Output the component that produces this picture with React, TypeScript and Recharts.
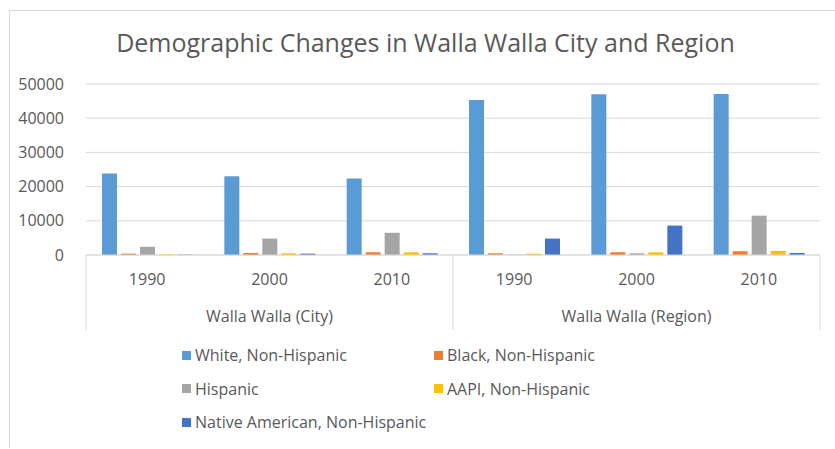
import React from 'react';
import { BarChart, Bar, XAxis, YAxis, CartesianGrid } from 'recharts';

const years = ['1990', '2000', '2010', '1990', '2000', '2010'];
const places = [
  'Walla Walla (City)', 'Walla Walla (City)', 'Walla Walla (City)',
  'Walla Walla (Region)', 'Walla Walla (Region)', 'Walla Walla (Region)',
];
const white = [23800, 23000, 22400, 45300, 47000, 47100];
const black = [400, 600, 800, 500, 800, 1100];
const hispanic = [2400, 4800, 6500, 100, 500, 11500];
const aapi = [200, 500, 800, 400, 800, 1200];
const native = [100, 400, 500, 4800, 8600, 600];
const yTicks = [0, 10000, 20000, 30000, 40000, 50000];

const series = [
  { key: 'white', name: 'White, Non-Hispanic', color: '#5B9BD5', values: white },
  { key: 'black', name: 'Black, Non-Hispanic', color: '#ED7D31', values: black },
  { key: 'hispanic', name: 'Hispanic', color: '#A5A5A5', values: hispanic },
  { key: 'aapi', name: 'AAPI, Non-Hispanic', color: '#FFC000', values: aapi },
  { key: 'native', name: 'Native American, Non-Hispanic', color: '#4472C4', values: native },
];

const data = years.map((year, i) => {
  const row: Record<string, string | number> = { id: `${places[i]}-${year}`, year, place: places[i] };
  series.forEach((s) => { row[s.key] = s.values[i]; });
  return row;
});

const W = 835;
const H = 449;
const PLOT_LEFT = 86;
const PLOT_RIGHT = 820;
const AXIS_Y = 255;
const BAND = (PLOT_RIGHT - PLOT_LEFT) / years.length;
const FONT = '"Open Sans", "Noto Sans", sans-serif';
const TEXT = '#595959';
const LINE = '#d9d9d9';

const YearTick = (props: any) => {
  const { x, payload } = props;
  const i: number = payload.index;
  const lines: React.ReactNode[] = [];
  if (i % 3 === 0) lines.push(<line key="l" x1={x - BAND / 2} x2={x - BAND / 2} y1={AXIS_Y} y2={330} stroke={LINE} />);
  if (i === years.length - 1) lines.push(<line key="r" x1={x + BAND / 2} x2={x + BAND / 2} y1={AXIS_Y} y2={330} stroke={LINE} />);
  return (
    <g>
      {lines}
      <text x={x} y={AXIS_Y + 30} textAnchor="middle" fill={TEXT} fontSize={16} fontFamily={FONT}>
        {years[i]}
      </text>
      {i % 3 === 1 && (
        <text x={x} y={AXIS_Y + 67} textAnchor="middle" fill={TEXT} fontSize={16} fontFamily={FONT}>
          {places[i]}
        </text>
      )}
    </g>
  );
};

export default function App() {
  return (
    <div style={{ position: 'absolute', left: 0, top: 0, width: W, height: H, background: '#fff', fontFamily: FONT }}>
      <div style={{ position: 'absolute', left: 9, top: 10, width: W - 9, height: 437, borderLeft: `1px solid ${LINE}`, borderTop: `1px solid ${LINE}` }} />
      <div style={{ position: 'absolute', left: 8, top: 25, width: W, textAlign: 'center', fontSize: 25, color: TEXT }}>
        Demographic Changes in Walla Walla City and Region
      </div>
      <div style={{ position: 'absolute', left: 0, top: 0 }}>
        <BarChart
          width={W}
          height={H}
          data={data}
          margin={{ top: 84, right: W - PLOT_RIGHT, bottom: H - AXIS_Y - 80, left: 0 }}
          barSize={15}
          barGap={4}
        >
          <CartesianGrid vertical={false} stroke={LINE} />
          <XAxis
            dataKey="id"
            height={80}
            axisLine={{ stroke: LINE }}
            tickLine={false}
            interval={0}
            tick={<YearTick />}
          />
          <YAxis
            width={PLOT_LEFT}
            domain={[0, 50000]}
            ticks={yTicks}
            axisLine={false}
            tickLine={false}
            tickMargin={16}
            tick={{ fill: TEXT, fontSize: 16, fontFamily: FONT }}
          />
          {series.map((s) => (
            <Bar key={s.key} dataKey={s.key} name={s.name} fill={s.color} isAnimationActive={false} />
          ))}
        </BarChart>
      </div>
      {series.map((s, i) => (
        <div
          key={s.key}
          style={{
            position: 'absolute',
            left: i % 2 === 0 ? 182 : 434,
            top: 344 + Math.floor(i / 2) * 33.5,
            display: 'flex',
            alignItems: 'center',
            fontSize: 16,
            color: TEXT,
            whiteSpace: 'nowrap',
          }}
        >
          <span style={{ display: 'inline-block', width: 9, height: 9, background: s.color, marginRight: 4 }} />
          {s.name}
        </div>
      ))}
    </div>
  );
}
